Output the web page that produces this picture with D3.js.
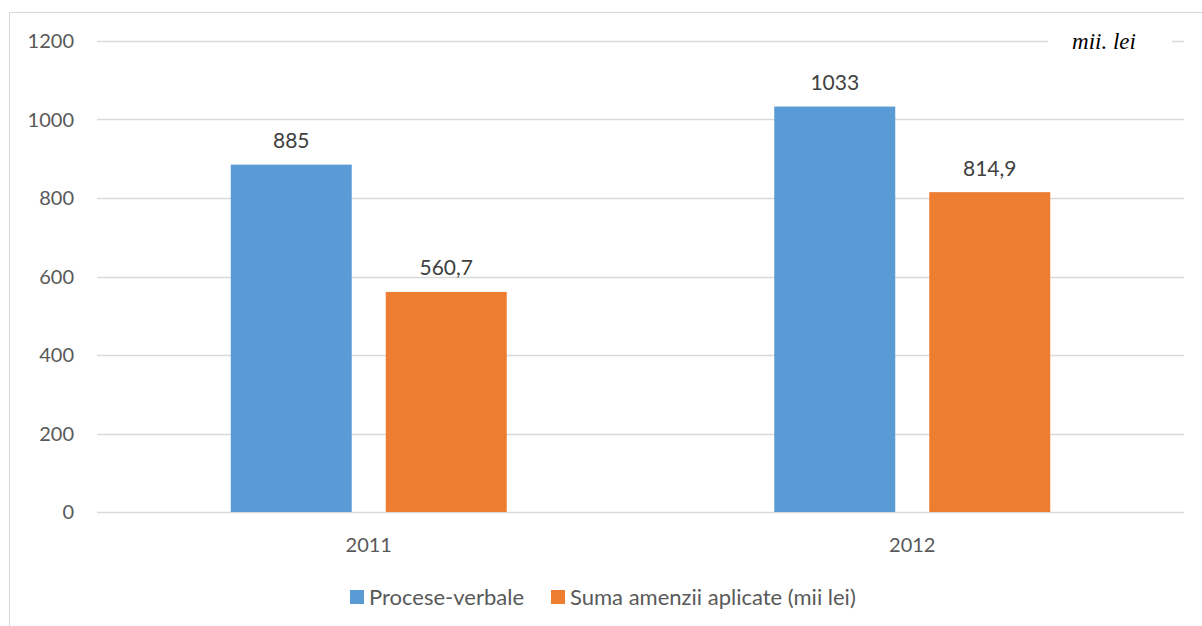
<!DOCTYPE html>
<html>
<head>
<meta charset="utf-8">
<script src="https://cdn.jsdelivr.net/npm/d3@7"></script>
<style>
  body { margin: 0; background: #fff; }
  svg { display: block; }
</style>
</head>
<body>
<div id="chart"></div>
<script>
// Data
const years = ["2011", "2012"];
const seriesNames = ["Procese-verbale", "Suma amenzii aplicate (mii lei)"];
const proceseVerbale = [885, 1033];
const sumaAmenzi = [560.7, 814.9];
const yTicks = [0, 200, 400, 600, 800, 1000, 1200];

const colors = ["#5b9bd5", "#ed7d31"];

const rows = years.map((y, i) => ({
  year: y,
  values: [proceseVerbale[i], sumaAmenzi[i]]
}));

// Dimensions
const width = 1202;
const height = 626;
const plot = { left: 97, right: 1184, top: 41, bottom: 512 };

const svg = d3.select("#chart")
  .append("svg")
    .attr("width", width)
    .attr("height", height);

// outer frame
svg.append("rect")
  .attr("x", 9.5)
  .attr("y", 12.5)
  .attr("width", 1220)
  .attr("height", 640)
  .attr("fill", "none")
  .attr("stroke", "#d9d9d9")
  .attr("stroke-width", 1);

const y = d3.scaleLinear()
  .domain([0, 1200])
  .range([plot.bottom, plot.top]);

const x0 = d3.scaleBand()
  .domain(years)
  .range([plot.left, plot.right]);

const innerW = 276;
const x1 = d3.scaleBand()
  .domain(d3.range(seriesNames.length))
  .range([(x0.bandwidth() - innerW) / 2, (x0.bandwidth() + innerW) / 2])
  .paddingInner(0.2194);

// gridlines
svg.append("g")
  .selectAll("line")
  .data(yTicks)
  .join("line")
    .attr("x1", plot.left)
    .attr("x2", plot.right)
    .attr("y1", d => Math.round(y(d)) + 0.5)
    .attr("y2", d => Math.round(y(d)) + 0.5)
    .attr("stroke", "#d9d9d9")
    .attr("stroke-width", 1.5);

// y labels
svg.append("g")
  .selectAll("text")
  .data(yTicks)
  .join("text")
    .attr("x", 74)
    .attr("y", d => y(d))
    .attr("dy", "0.35em")
    .attr("text-anchor", "end")
    .attr("fill", "#595959")
    .style("font-family", "Lato, 'Open Sans', sans-serif")
    .style("font-size", "20px")
    .text(d => d);

// bars
const groups = svg.append("g")
  .selectAll("g")
  .data(rows)
  .join("g")
    .attr("transform", d => `translate(${x0(d.year)},0)`);

groups.selectAll("rect")
  .data(d => d.values)
  .join("rect")
    .attr("x", (d, i) => x1(i))
    .attr("y", d => y(d))
    .attr("width", x1.bandwidth())
    .attr("height", d => y(0) - y(d))
    .attr("fill", (d, i) => colors[i]);

const fmt = v => String(v).replace(".", ",");

groups.selectAll("text")
  .data(d => d.values)
  .join("text")
    .attr("x", (d, i) => x1(i) + x1.bandwidth() / 2)
    .attr("y", d => y(d) - 24)
    .attr("dy", "0.35em")
    .attr("text-anchor", "middle")
    .attr("fill", "#404040")
    .style("font-family", "Lato, 'Open Sans', sans-serif")
    .style("font-size", "21px")
    .text(d => fmt(d));

// x labels
svg.append("g")
  .selectAll("text")
  .data(years)
  .join("text")
    .attr("x", d => x0(d) + x0.bandwidth() / 2)
    .attr("y", 545)
    .attr("dy", "0.35em")
    .attr("text-anchor", "middle")
    .attr("fill", "#595959")
    .style("font-family", "Lato, 'Open Sans', sans-serif")
    .style("font-size", "20px")
    .text(d => d);

// unit label
svg.append("rect")
  .attr("x", 1048)
  .attr("y", 28)
  .attr("width", 124)
  .attr("height", 28)
  .attr("fill", "#fff");

svg.append("text")
  .attr("x", 1104)
  .attr("y", 41)
  .attr("dy", "0.35em")
  .attr("text-anchor", "middle")
  .attr("fill", "#000")
  .style("font-family", "'Liberation Serif', 'Times New Roman', serif")
  .style("font-style", "italic")
  .style("font-size", "23px")
  .text("mii. lei");

// legend
const legendX = [350, 551];
const legend = svg.append("g")
  .selectAll("g")
  .data(seriesNames)
  .join("g")
    .attr("transform", (d, i) => `translate(${legendX[i]},590)`);

legend.append("rect")
  .attr("width", 14)
  .attr("height", 14)
  .attr("fill", (d, i) => colors[i]);

legend.append("text")
  .attr("x", 19)
  .attr("y", 7)
  .attr("dy", "0.35em")
  .attr("fill", "#595959")
  .style("font-family", "Lato, 'Open Sans', sans-serif")
  .style("font-size", "22px")
  .text(d => d);
</script>
</body>
</html>
